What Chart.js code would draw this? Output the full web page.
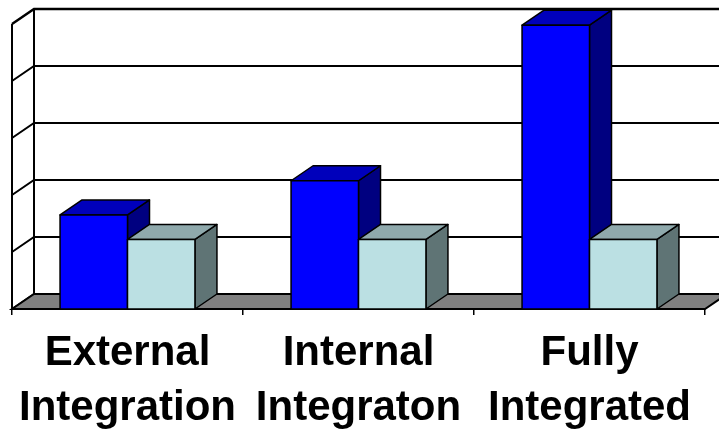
<!DOCTYPE html>
<html lang="en">
<head>
  <meta charset="UTF-8">
  <title>Integration chart</title>
  <style>
    html, body { margin: 0; padding: 0; background: #fff; }
    #wrap { width: 719px; height: 432px; }
  </style>
  <script src="https://cdn.jsdelivr.net/npm/chart.js"></script>
</head>
<body>
  <div id="wrap"><canvas id="grafico" width="719" height="432"></canvas></div>

  <script>
    // datos
    const categorias = [
      ['External', 'Integration'],
      ['Internal', 'Integraton'],
      ['Fully', 'Integrated']
    ];
    const serieAzul = [1.65, 2.25, 4.98];
    const serieClara = [1.22, 1.22, 1.22];
    const ticksY = [0, 1, 2, 3, 4, 5];

    // profundidad del efecto 3D
    const DX = 22, DY = 15;

    // colores: frente, arriba, lado
    const caras = [
      ['#0000FF', '#0000BB', '#000080'],
      ['#BBE0E3', '#8FA9AC', '#5F7475']
    ];

    function poligono(ctx, pts, relleno) {
      ctx.beginPath();
      ctx.moveTo(pts[0][0], pts[0][1]);
      for (let i = 1; i < pts.length; i++) ctx.lineTo(pts[i][0], pts[i][1]);
      ctx.closePath();
      if (relleno) { ctx.fillStyle = relleno; ctx.fill(); }
      ctx.stroke();
    }

    const paredes3d = {
      id: 'paredes3d',
      beforeDatasetsDraw(chart) {
        const ctx = chart.ctx;
        const a = chart.chartArea;
        const y = chart.scales.y;
        ctx.save();
        ctx.strokeStyle = '#000';
        ctx.lineJoin = 'miter';

        // lineas de la pared del fondo y pared izquierda
        ticksY.forEach(v => {
          const py = y.getPixelForValue(v);
          ctx.lineWidth = v === ticksY[ticksY.length - 1] ? 2.5 : 2;
          ctx.beginPath();
          ctx.moveTo(a.left, py);
          ctx.lineTo(a.left + DX, py - DY);
          if (v !== 0) ctx.lineTo(a.right + DX, py - DY);
          ctx.stroke();
        });
        ctx.lineWidth = 2;
        ctx.beginPath();
        ctx.moveTo(a.left + DX, y.getPixelForValue(5) - DY);
        ctx.lineTo(a.left + DX, a.bottom - DY);
        ctx.moveTo(a.left, y.getPixelForValue(5));
        ctx.lineTo(a.left, a.bottom);
        ctx.stroke();

        // piso
        ctx.lineWidth = 2;
        poligono(ctx, [
          [a.left, a.bottom], [a.left + DX, a.bottom - DY],
          [a.right + DX, a.bottom - DY], [a.right, a.bottom]
        ], '#808080');
        ctx.restore();
      },
      afterDatasetsDraw(chart) {
        const ctx = chart.ctx;
        ctx.save();
        ctx.strokeStyle = '#000';
        ctx.lineWidth = 1.5;
        ctx.lineJoin = 'round';
        const n = chart.data.labels.length;
        for (let i = 0; i < n; i++) {
          chart.data.datasets.forEach((ds, d) => {
            const bar = chart.getDatasetMeta(d).data[i];
            const p = bar.getProps(['x', 'y', 'base', 'width']);
            const l = p.x - p.width / 2, r = p.x + p.width / 2;
            const t = p.y, b = p.base;
            const c = caras[d];
            poligono(ctx, [[r, b], [r + DX, b - DY], [r + DX, t - DY], [r, t]], c[2]);
            poligono(ctx, [[l, t], [l + DX, t - DY], [r + DX, t - DY], [r, t]], c[1]);
            poligono(ctx, [[l, b], [l, t], [r, t], [r, b]], c[0]);
          });
        }
        ctx.restore();
      }
    };

    new Chart(document.getElementById('grafico'), {
      type: 'bar',
      data: {
        labels: categorias,
        datasets: [
          { label: 'A', data: serieAzul, backgroundColor: caras[0][0], borderColor: '#000', borderWidth: 1.5 },
          { label: 'B', data: serieClara, backgroundColor: caras[1][0], borderColor: '#000', borderWidth: 1.5 }
        ]
      },
      options: {
        responsive: false,
        animation: false,
        devicePixelRatio: 1,
        layout: { padding: { left: 12, right: 14, top: 24, bottom: 0 } },
        plugins: { legend: { display: false }, tooltip: { enabled: false } },
        datasets: { bar: { categoryPercentage: 0.584, barPercentage: 1 } },
        scales: {
          x: {
            offset: true,
            grid: { display: true, offset: true, drawOnChartArea: false, drawTicks: true, tickLength: 6, color: '#000', lineWidth: 1.5 },
            border: { display: true, color: '#000', width: 2 },
            ticks: {
              autoSkip: false, maxRotation: 0, minRotation: 0, padding: 11,
              color: '#000',
              font: { family: '"Liberation Sans", Arial, sans-serif', size: 42, weight: 'bold', lineHeight: 1.31 }
            },
            afterFit: s => { s.height = 123; }
          },
          y: {
            min: 0, max: 5,
            ticks: { display: false, stepSize: 1 },
            grid: { display: false },
            border: { display: false },
            afterFit: s => { s.width = 0; }
          }
        }
      },
      plugins: [paredes3d]
    });
  </script>
</body>
</html>
